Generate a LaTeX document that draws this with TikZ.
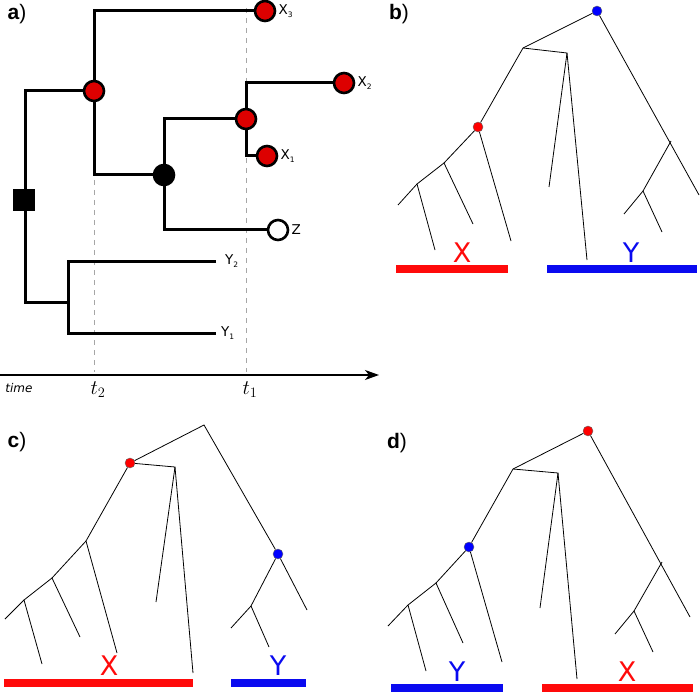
\documentclass[tikz,border=0pt]{standalone}
\usepackage{fontspec}
\setsansfont{Liberation Sans}
\newfontfamily\dejavu{DejaVu Sans}
\usetikzlibrary{arrows.meta}

\definecolor{treered}{RGB}{221,0,0}
\definecolor{barred}{RGB}{255,10,10}
\definecolor{barblue}{RGB}{10,10,240}

\tikzset{
  branch/.style={line width=3pt},
  twig/.style={line width=0.8pt},
  redcirc/.style={circle, draw, line width=2.6pt, fill=treered, minimum size=20pt, inner sep=0pt},
  blackcirc/.style={circle, draw, line width=2.6pt, fill=black, minimum size=20pt, inner sep=0pt},
  whitecirc/.style={circle, draw, line width=2.6pt, fill=white, minimum size=20pt, inner sep=0pt},
  sqbox/.style={rectangle, fill=black, minimum size=22pt, inner sep=0pt},
  reddot/.style={circle, draw=black!60, line width=0.4pt, fill=red, minimum size=10pt, inner sep=0pt},
  bluedot/.style={circle, draw=black!60, line width=0.4pt, fill=blue, minimum size=10pt, inner sep=0pt},
  bar/.style={line width=7.5pt},
  panel/.style={font={\fontsize{21}{22}\sffamily}},
  leaflab/.style={font={\fontsize{13.5}{14}\dejavu}, anchor=west, inner sep=2pt},
  biglab/.style={font={\fontsize{27}{27}\dejavu}}
}
\newcommand{\sub}[1]{\raisebox{-3pt}{\fontsize{7.5}{7.5}\selectfont #1}}

\begin{document}
\begin{tikzpicture}[x=1pt, y=-1pt]
    \useasboundingbox (0,0) rectangle (700,692);

    % a) time lines
    \draw[gray!70, line width=1pt, dash pattern=on 5pt off 5pt] (246,8) -- (246,372);
    \draw[gray!70, line width=1pt, dash pattern=on 5pt off 5pt] (94,180) -- (94,372);
    \coordinate (ax0) at (0,375);
    \coordinate (ax1) at (379,375);
    \draw[line width=1.4pt, -{Stealth[length=14pt, width=10pt, inset=4pt]}] (ax0) -- (ax1);
    \node[font={\fontsize{12}{12}\dejavu\itshape}] at (19,388) {time};
    \node[font={\fontsize{22}{22}\selectfont}] (t2) at (98,390) {$t_2$};
    \node[font={\fontsize{22}{22}\selectfont}] (t1) at (250,390) {$t_1$};

    % a) tree
    \node[panel] at (17,14) {\textbf{a})};
    \node[redcirc] (x3) at (265,11) {};
    \node[redcirc] (n2) at (94,91) {};
    \node[redcirc] (x2) at (344,83) {};
    \node[redcirc] (n1) at (246,119) {};
    \node[redcirc] (x1) at (267,156) {};
    \node[whitecirc] (z) at (278,230) {};
    \coordinate (yb) at (68,302);
    \coordinate (y2) at (216,261);
    \coordinate (y1) at (216,333);
    \draw[branch] (n2) |- (x3);
    \draw[branch] (n2) |- (164,175);
    \draw[branch] (164,175) |- (n1);
    \draw[branch] (164,175) |- (z);
    \draw[branch] (n1) |- (x2);
    \draw[branch] (n1) |- (x1);
    \draw[branch] (n2) -| (25,302) -- (yb);
    \draw[branch] (y2) -| (yb) |- (y1);
    \node[blackcirc] (m) at (164,175) {};
    \node[sqbox] (r) at (24,200) {};
    \node[leaflab] at (x3.east) {X\sub{3}};
    \node[leaflab] at (x2.east) {X\sub{2}};
    \node[leaflab] at (x1.east) {X\sub{1}};
    \node[leaflab] at (z.east) {Z};
    \node[leaflab] at (y2) [xshift=7pt] {Y\sub{2}};
    \node[leaflab] at (y1) [xshift=3pt] {Y\sub{1}};

    % b)
    \node[panel] at (399,14) {\textbf{b})};
    \coordinate (bA) at (523,48);
    \coordinate (bB) at (567,53);
    \coordinate (bC) at (444,163);
    \coordinate (bD) at (417,184);
    \coordinate (bE) at (671,141);
    \coordinate (bF) at (643,191);
    \node[bluedot] (broot) at (597,11) {};
    \node[reddot] (bx) at (478,127) {};
    \draw[twig] (broot) -- (bA) -- (bx);
    \draw[twig] (bA) -- (bB) -- (549,187);
    \draw[twig] (bB) -- (587,260);
    \draw[twig] (bx) -- (511,241);
    \draw[twig] (bx) -- (bC) -- (473,224);
    \draw[twig] (bC) -- (bD) -- (398,205);
    \draw[twig] (bD) -- (435,250);
    \draw[twig] (broot) -- (699,195);
    \draw[twig] (bE) -- (bF) -- (624,214);
    \draw[twig] (bF) -- (662,232);
    \draw[bar, barred] (396,269) -- (508,269);
    \draw[bar, barblue] (547,269) -- (697,269);
    \node[biglab, text=barred] at (462,253) {X};
    \node[biglab, text=barblue] at (631,253) {Y};

    % c)
    \node[panel] at (17,442) {\textbf{c})};
    \coordinate (cT) at (204,425);
    \coordinate (cB) at (175,467);
    \coordinate (cC) at (86,541);
    \coordinate (cD) at (52,578);
    \coordinate (cE) at (24,600);
    \coordinate (cF) at (251,606);
    \node[reddot] (cx) at (130,463) {};
    \node[bluedot] (cy) at (278,554) {};
    \draw[twig] (cx) -- (cT) -- (cy);
    \draw[twig] (cx) -- (cB) -- (156,602);
    \draw[twig] (cB) -- (193,673);
    \draw[twig] (cx) -- (cC) -- (117,653);
    \draw[twig] (cC) -- (cD) -- (80,637);
    \draw[twig] (cD) -- (cE) -- (42,664);
    \draw[twig] (cE) -- (5,619);
    \draw[twig] (cy) -- (307,610);
    \draw[twig] (cy) -- (cF) -- (231,628);
    \draw[twig] (cF) -- (269,647);
    \draw[bar, barred] (4,683) -- (193,683);
    \draw[bar, barblue] (231,683) -- (306,683);
    \node[biglab, text=barred] at (109,666) {X};
    \node[biglab, text=barblue] at (278,666) {Y};

    % d)
    \node[panel] at (397,443) {\textbf{d})};
    \coordinate (dA) at (513,469);
    \coordinate (dB) at (558,473);
    \coordinate (dC) at (436,583);
    \coordinate (dD) at (408,605);
    \coordinate (dE) at (662,562);
    \coordinate (dF) at (634,611);
    \node[reddot] (droot) at (588,431) {};
    \node[bluedot] (dy) at (469,547) {};
    \draw[twig] (droot) -- (dA) -- (dy);
    \draw[twig] (dA) -- (dB) -- (540,608);
    \draw[twig] (dB) -- (577,679);
    \draw[twig] (dy) -- (502,662);
    \draw[twig] (dy) -- (dC) -- (463,643);
    \draw[twig] (dC) -- (dD) -- (388,626);
    \draw[twig] (dD) -- (426,671);
    \draw[twig] (droot) -- (690,617);
    \draw[twig] (dE) -- (dF) -- (615,634);
    \draw[twig] (dF) -- (653,652);
    \draw[bar, barblue] (391,688) -- (503,688);
    \draw[bar, barred] (542,688) -- (693,688);
    \node[biglab, text=barblue] at (457,672) {Y};
    \node[biglab, text=barred] at (627,672) {X};
\end{tikzpicture}
\end{document}
